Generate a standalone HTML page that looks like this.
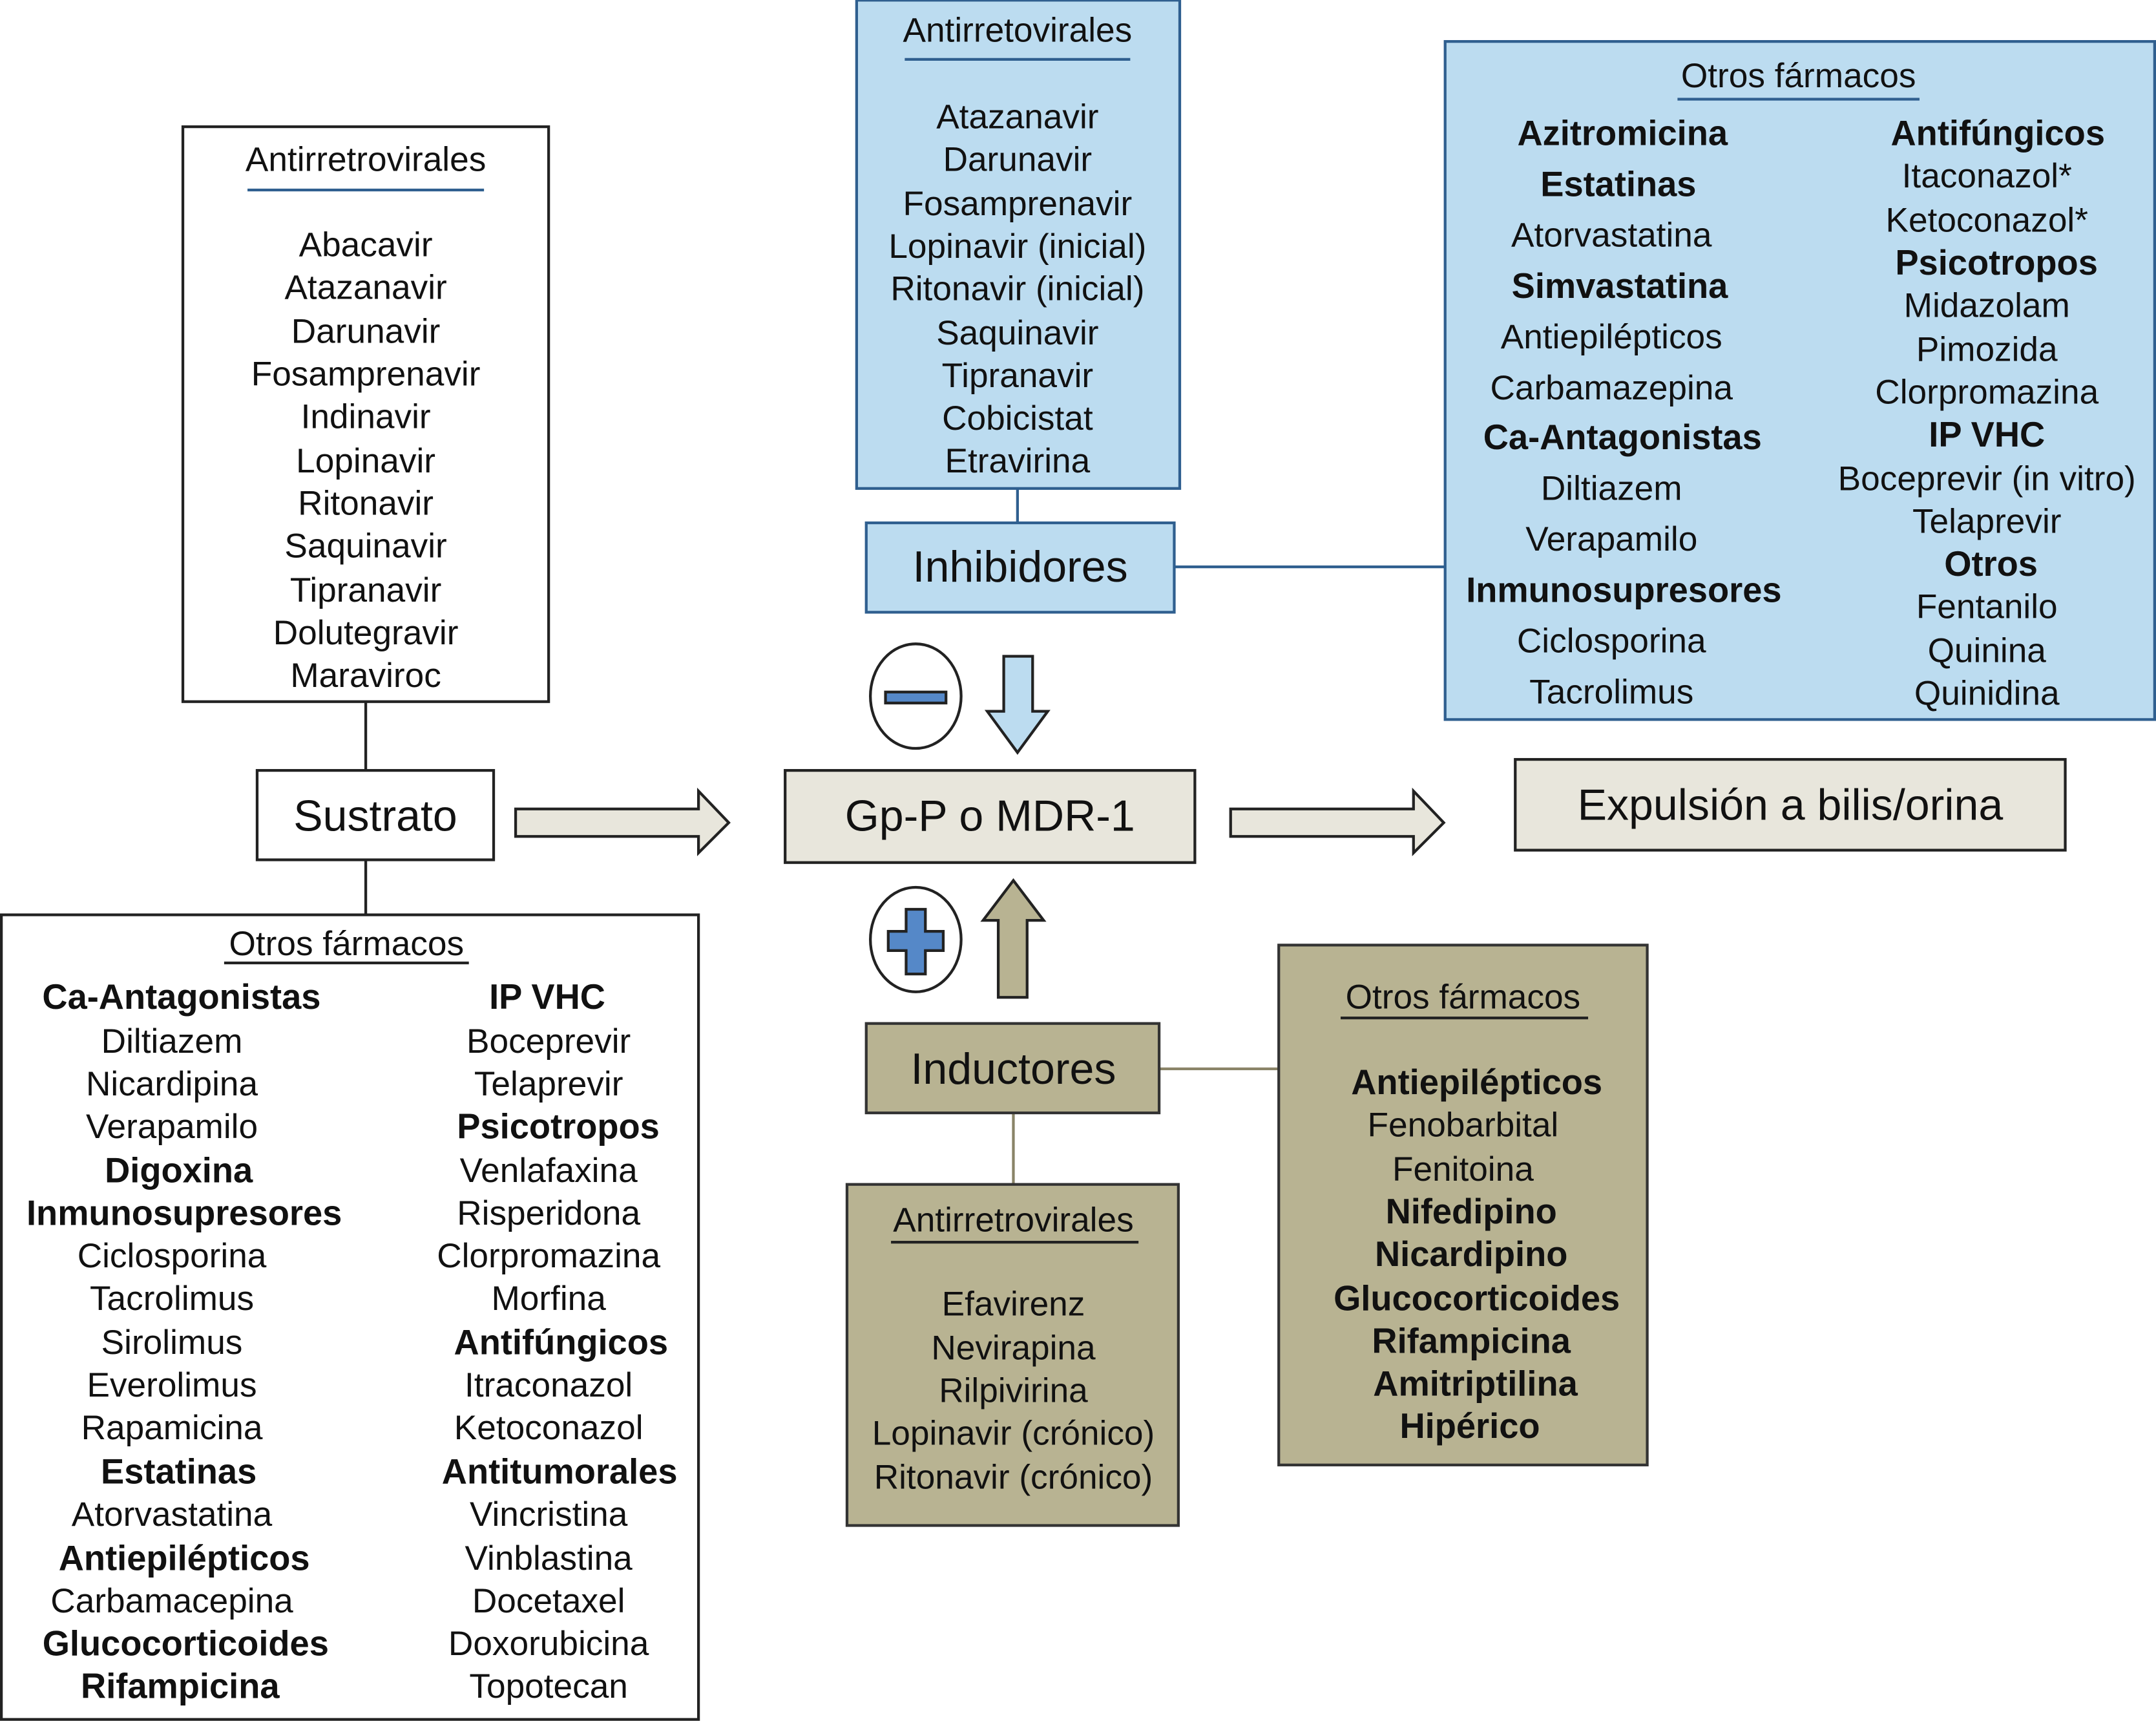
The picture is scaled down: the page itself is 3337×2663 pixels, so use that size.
<!DOCTYPE html>
<html><head><meta charset="utf-8"><style>
html,body{margin:0;padding:0;background:#fff;}
svg{display:block;}
text{font-family:"Liberation Sans",Arial,sans-serif;fill:#111;}
text[font-weight="bold"]{font-size:25.5px;}
</style></head><body>
<svg width="3337" height="2663" viewBox="0 0 1568 1251" xmlns="http://www.w3.org/2000/svg">
<g stroke="#222" stroke-width="2">
<line x1="266" y1="510" x2="266" y2="560"/>
<line x1="266" y1="625" x2="266" y2="665"/>
<line x1="740" y1="355" x2="740" y2="380" stroke="#2f5f8f"/>
<line x1="854" y1="412" x2="1051" y2="412" stroke="#2f5f8f"/>
<line x1="843" y1="777" x2="930" y2="777" stroke="#8a8468"/>
<line x1="737" y1="809" x2="737" y2="861" stroke="#8a8468"/>
<rect x="133" y="92" width="266" height="418" fill="#fff"/>
<rect x="187" y="560" width="172" height="65" fill="#fff"/>
<rect x="1" y="665" width="507" height="585" fill="#fff"/>
<rect x="571" y="560" width="298" height="67" fill="#e8e6dc"/>
<rect x="1102" y="552" width="400" height="66" fill="#e8e6dc"/>
<rect x="623" y="0" width="235" height="355" fill="#bcdcf0" stroke="#2f5f8f"/>
<rect x="630" y="380" width="224" height="65" fill="#bcdcf0" stroke="#2f5f8f"/>
<rect x="1051" y="30" width="516" height="493" fill="#bcdcf0" stroke="#2f5f8f"/>
<rect x="630" y="744" width="213" height="65" fill="#b8b392" stroke="#333"/>
<rect x="616" y="861" width="241" height="248" fill="#b8b392" stroke="#333"/>
<rect x="930" y="687" width="268" height="378" fill="#b8b392" stroke="#333"/>
<polygon points="375,588 508,588 508,575 530,598 508,620 508,608 375,608" fill="#e8e6dc"/>
<polygon points="895,588 1028,588 1028,575 1050,598 1028,620 1028,608 895,608" fill="#e8e6dc"/>
<polygon points="730,477 751,477 751,517 762,517 740,547 718,517 730,517" fill="#bcdcf0"/>
<polygon points="726,725 747,725 747,669 759,669 737,640 715,669 726,669" fill="#b8b392"/>
<ellipse cx="666" cy="506" rx="33" ry="38" fill="#fff"/>
<rect x="644" y="503" width="44" height="8" fill="#5588c8"/>
<ellipse cx="666" cy="683" rx="33" ry="38" fill="#fff"/>
<polygon points="659,661 673,661 673,677 686,677 686,691 673,691 673,708 659,708 659,691 646,691 646,677 659,677" fill="#5588c8"/>
</g>
<g stroke-width="2">
<line x1="180" y1="138" x2="352" y2="138" stroke="#2f5f8f"/>
<line x1="163" y1="700" x2="341" y2="700" stroke="#222"/>
<line x1="658" y1="43" x2="822" y2="43" stroke="#2f5f8f"/>
<line x1="1220" y1="72" x2="1396" y2="72" stroke="#2f5f8f"/>
<line x1="648" y1="903" x2="828" y2="903" stroke="#222"/>
<line x1="975" y1="740" x2="1155" y2="740" stroke="#222"/>
</g>
<g text-anchor="middle" dominant-baseline="central" font-size="25">
<text x="266" y="116">Antirretrovirales</text>
<text x="266" y="178">Abacavir</text><text x="266" y="209">Atazanavir</text><text x="266" y="241">Darunavir</text><text x="266" y="272">Fosamprenavir</text><text x="266" y="303">Indinavir</text><text x="266" y="335">Lopinavir</text><text x="266" y="366">Ritonavir</text><text x="266" y="397">Saquinavir</text><text x="266" y="429">Tipranavir</text><text x="266" y="460">Dolutegravir</text><text x="266" y="491">Maraviroc</text>
<text x="273" y="593" font-size="32">Sustrato</text>
<text x="720" y="593" font-size="32">Gp-P o MDR-1</text>
<text x="1302" y="585" font-size="32">Expulsión a bilis/orina</text>
<text x="742" y="412" font-size="32">Inhibidores</text>
<text x="737" y="777" font-size="32">Inductores</text>
<text x="252" y="686">Otros fármacos</text>
<g>
<text x="132" y="725" font-weight="bold">Ca-Antagonistas</text><text x="125" y="757">Diltiazem</text><text x="125" y="788">Nicardipina</text><text x="125" y="819">Verapamilo</text><text x="130" y="851" font-weight="bold">Digoxina</text><text x="134" y="882" font-weight="bold">Inmunosupresores</text><text x="125" y="913">Ciclosporina</text><text x="125" y="944">Tacrolimus</text><text x="125" y="976">Sirolimus</text><text x="125" y="1007">Everolimus</text><text x="125" y="1038">Rapamicina</text><text x="130" y="1070" font-weight="bold">Estatinas</text><text x="125" y="1101">Atorvastatina</text><text x="134" y="1133" font-weight="bold">Antiepilépticos</text><text x="125" y="1164">Carbamacepina</text><text x="135" y="1195" font-weight="bold">Glucocorticoides</text><text x="131" y="1226" font-weight="bold">Rifampicina</text>
</g>
<g>
<text x="398" y="725" font-weight="bold">IP VHC</text><text x="399" y="757">Boceprevir</text><text x="399" y="788">Telaprevir</text><text x="406" y="819" font-weight="bold">Psicotropos</text><text x="399" y="851">Venlafaxina</text><text x="399" y="882">Risperidona</text><text x="399" y="913">Clorpromazina</text><text x="399" y="944">Morfina</text><text x="408" y="976" font-weight="bold">Antifúngicos</text><text x="399" y="1007">Itraconazol</text><text x="399" y="1038">Ketoconazol</text><text x="407" y="1070" font-weight="bold">Antitumorales</text><text x="399" y="1101">Vincristina</text><text x="399" y="1133">Vinblastina</text><text x="399" y="1164">Docetaxel</text><text x="399" y="1195">Doxorubicina</text><text x="399" y="1226">Topotecan</text>
</g>
<text x="740" y="22">Antirretovirales</text>
<text x="740" y="85">Atazanavir</text><text x="740" y="116">Darunavir</text><text x="740" y="148">Fosamprenavir</text><text x="740" y="179">Lopinavir (inicial)</text><text x="740" y="210">Ritonavir (inicial)</text><text x="740" y="242">Saquinavir</text><text x="740" y="273">Tipranavir</text><text x="740" y="304">Cobicistat</text><text x="740" y="335">Etravirina</text>
<text x="1308" y="55">Otros fármacos</text>
<g>
<text x="1180" y="97" font-weight="bold">Azitromicina</text><text x="1177" y="134" font-weight="bold">Estatinas</text><text x="1172" y="171">Atorvastatina</text><text x="1178" y="208" font-weight="bold">Simvastatina</text><text x="1172" y="245">Antiepilépticos</text><text x="1172" y="282">Carbamazepina</text><text x="1180" y="318" font-weight="bold">Ca-Antagonistas</text><text x="1172" y="355">Diltiazem</text><text x="1172" y="392">Verapamilo</text><text x="1181" y="429" font-weight="bold">Inmunosupresores</text><text x="1172" y="466">Ciclosporina</text><text x="1172" y="503">Tacrolimus</text>
</g>
<g>
<text x="1453" y="97" font-weight="bold">Antifúngicos</text><text x="1445" y="128">Itaconazol*</text><text x="1445" y="160">Ketoconazol*</text><text x="1452" y="191" font-weight="bold">Psicotropos</text><text x="1445" y="222">Midazolam</text><text x="1445" y="254">Pimozida</text><text x="1445" y="285">Clorpromazina</text><text x="1445" y="316" font-weight="bold">IP VHC</text><text x="1445" y="348">Boceprevir (in vitro)</text><text x="1445" y="379">Telaprevir</text><text x="1448" y="410" font-weight="bold">Otros</text><text x="1445" y="441">Fentanilo</text><text x="1445" y="473">Quinina</text><text x="1445" y="504">Quinidina</text>
</g>
<text x="737" y="887">Antirretrovirales</text>
<text x="737" y="948">Efavirenz</text><text x="737" y="980">Nevirapina</text><text x="737" y="1011">Rilpivirina</text><text x="737" y="1042">Lopinavir (crónico)</text><text x="737" y="1074">Ritonavir (crónico)</text>
<text x="1064" y="725">Otros fármacos</text>
<text x="1074" y="787" font-weight="bold">Antiepilépticos</text><text x="1064" y="818">Fenobarbital</text><text x="1064" y="850">Fenitoina</text><text x="1070" y="881" font-weight="bold">Nifedipino</text><text x="1070" y="912" font-weight="bold">Nicardipino</text><text x="1074" y="944" font-weight="bold">Glucocorticoides</text><text x="1070" y="975" font-weight="bold">Rifampicina</text><text x="1073" y="1006" font-weight="bold">Amitriptilina</text><text x="1069" y="1037" font-weight="bold">Hipérico</text>
</g>
</svg>
</body></html>
